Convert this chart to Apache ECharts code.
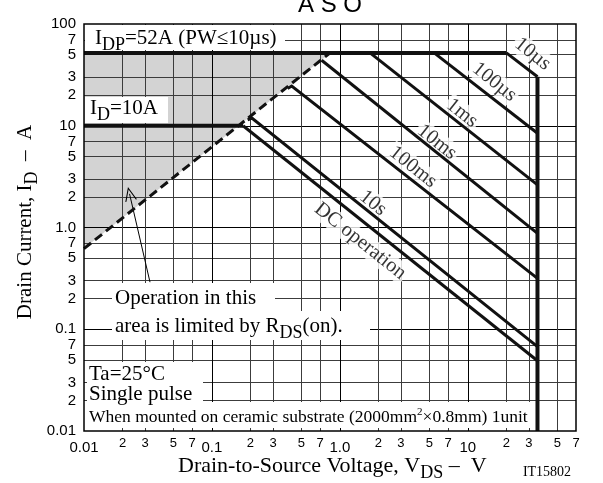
<!DOCTYPE html>
<html><head><meta charset="utf-8">
<script src="https://cdn.jsdelivr.net/npm/echarts@6/dist/echarts.min.js"></script>
<style>html,body{margin:0;padding:0;background:#fff}#c{width:603px;height:483px}</style>
</head><body><div id="c"></div>
<script>
// ---- axis ticks ----
const xTickValues = [0.01,0.02,0.03,0.05,0.07,0.1,0.2,0.3,0.5,0.7,1,2,3,5,7,10,20,30,50,70];
const xTickLabels = ['0.01','2','3','5','7','0.1','2','3','5','7','1.0','2','3','5','7','10','2','3','5','7'];
const yTickValues = [0.01,0.02,0.03,0.05,0.07,0.1,0.2,0.3,0.5,0.7,1,2,3,5,7,10,20,30,50,70,100];
const yTickLabels = ['0.01','2','3','5','7','0.1','2','3','5','7','1.0','2','3','5','7','10','2','3','5','7','100'];

// ---- limit lines (VDS [V], ID [A]) ----
const idpLimit  = [[0.01,52],[20,52]];
const idLimit   = [[0.01,10],[0.175,10]];
const vdssLimit = [[35,30.3],[35,0.01]];
const rdsLimit  = [[0.01,0.62],[0.82,51]];
const rdsShade  = [[0.01,52],[0.01,0.62],[0.84,52]];

// ---- SOA curves ----
const soa10us  = [[20,52],[35,30.3]];
const soa100us = [[5.45,52],[35,8.43]];
const soa1ms   = [[1.72,52],[35,2.62]];
const soa10ms  = [[0.72,44],[35,0.877]];
const soa100ms = [[0.39,23.2],[0.42,24.6],[35,0.316]];
const soa10s   = [[0.19,11.4],[0.205,11.9],[35,0.0674]];
const soaDC    = [[0.175,10],[35,0.049]];

// ---- curve labels ----
const curveLabels = ['10µs','100µs','1ms','10ms','100ms','10s','DC operation'];
const curveLabelAt = [[32.0,50.7],[16.1,26.9],[9.0,13.3],[5.74,6.92],[3.72,3.93],[1.81,1.74],[1.44,0.737]];
const arrowTail = [0.0328,0.29];
const arrowTip  = [0.0227,2.14];

const SERIF = '"Liberation Serif","Times New Roman",Times,serif';
const SANS = '"Liberation Sans",Arial,Helvetica,sans-serif';

function isMajor(v){ const l = Math.log10(v); return Math.abs(l - Math.round(l)) < 1e-6; }
function findIdx(vals, v){ for (let i=0;i<vals.length;i++){ if (Math.abs(Math.log10(vals[i]/v))<1e-4) return i; } return -1; }
function gridColors(vals){ return vals.map(v => isMajor(v) ? '#000' : '#3c3c3c'); }
const xGrid = xTickValues.slice(1, -1);
const yGrid = yTickValues.slice(1, -1);

const chart = echarts.init(document.getElementById('c'), null, {renderer:'canvas'});

function lineSeries(data, width, type){
  return {type:'line', data: data, symbol:'none', showSymbol:false, silent:true, animation:false, z:5,
    lineStyle:{color:'#111', width: width, type: type || 'solid', cap:'butt', join:'miter'}};
}

const RICH = {
  n: {fontFamily:SERIF, fontSize:21, lineHeight:22, verticalAlign:'middle', fill:'#000'},
  s: {fontFamily:SERIF, fontSize:18, lineHeight:18, padding:[14,0,0,0], verticalAlign:'middle', fill:'#000'},
  o: {fontFamily:SERIF, fontSize:21, lineHeight:21, verticalAlign:'middle', fill:'#000'},
  x: {fontFamily:SERIF, fontSize:22, lineHeight:22, verticalAlign:'middle', fill:'#000'},
  w: {fontFamily:SERIF, fontSize:17.5, lineHeight:18, verticalAlign:'middle', fill:'#000'},
  sup: {fontFamily:SERIF, fontSize:11, lineHeight:11, padding:[0,0,9,0], verticalAlign:'middle', fill:'#000'}
};
function T(x, y, text, opts, extra){
  return Object.assign({type:'text', x:x, y:y, z:20, silent:true,
    style:Object.assign({text:text, fill:'#000', fontFamily:SERIF, fontSize:21, align:'left', verticalAlign:'middle', rich:RICH}, opts||{})}, extra||{});
}
function B(x, y, w, h){ return {type:'rect', z:19, silent:true, shape:{x:x,y:y,width:w,height:h}, style:{fill:'#fff'}}; }

const chevron = 'path://M6,0 L12,14 L10.8,14 L6,2.6 L1.2,14 L0,14 Z';

const option = {
  animation:false,
  backgroundColor:'#fff',
  grid:{left:84, top:24, right:27, bottom:52, show:true, borderColor:'#000', borderWidth:1.5, backgroundColor:'transparent', z:6},
  xAxis:{
    type:'log', logBase:10, min:0.01, max:70, z:3,
    axisLine:{show:false},
    axisTick:{show:false, customValues:xGrid},
    splitLine:{show:true, lineStyle:{color:gridColors(xGrid), width:1}},
    axisLabel:{
      customValues:xTickValues, margin:5, showMinLabel:true, showMaxLabel:true,
      formatter:function(v){ const i = findIdx(xTickValues, v); if (i<0) return ''; const t = xTickLabels[i]; return isMajor(xTickValues[i]) ? '{ma|'+t+'}' : '{mi|'+t+'}'; },
      rich:{
        mi:{fontFamily:SANS, fontSize:13, lineHeight:14, color:'#000'},
        ma:{fontFamily:SANS, fontSize:15, lineHeight:15, color:'#000', padding:[8,0,0,0]}
      }
    }
  },
  yAxis:{
    type:'log', logBase:10, min:0.01, max:100, z:3,
    axisLine:{show:false},
    axisTick:{show:false, customValues:yGrid},
    splitLine:{show:true, lineStyle:{color:gridColors(yGrid), width:1}},
    axisLabel:{
      customValues:yTickValues, margin:8, showMinLabel:true, showMaxLabel:true,
      fontFamily:SANS, fontSize:15, lineHeight:15, color:'#000',
      formatter:function(v){ const i = findIdx(yTickValues, v); return i<0 ? '' : yTickLabels[i]; }
    }
  },
  series:[
    {type:'custom', silent:true, z:1, data:[[1,1]],
      renderItem:function(params, api){
        const pts = rdsShade.map(p => api.coord(p));
        return {type:'polygon', shape:{points:pts}, style:{fill:'#d3d3d3'}};
      }},
    lineSeries(idpLimit, 4),
    lineSeries(idLimit, 4),
    lineSeries(vdssLimit, 4),
    lineSeries(rdsLimit, 3, [9,5]),
    lineSeries(soa10us, 3),
    lineSeries(soa100us, 3),
    lineSeries(soa1ms, 3),
    lineSeries(soa10ms, 3),
    lineSeries(soa100ms, 3),
    lineSeries(soa10s, 3),
    lineSeries(soaDC, 3),
    {type:'scatter', silent:true, z:4, symbolSize:1, itemStyle:{color:'transparent'},
      data: curveLabelAt.map((p,i) => ({value:p, label:{formatter:curveLabels[i]}})),
      label:{show:true, position:'inside', rotate:-38.5, fontFamily:SERIF, fontSize:20.5, color:'#000', backgroundColor:'#fff', padding:[0,2]},
      markLine:{silent:true, animation:false, symbol:['none', chevron], symbolSize:[12,14],
        lineStyle:{color:'#000', width:1, type:'solid'}, label:{show:false},
        data:[[{coord:arrowTail},{coord:arrowTip}]]}
    }
  ],
  graphic:[
    T(330, 5, 'A S O', {fontFamily:SANS, fontSize:24, align:'center'}),
    B(85, 25, 200, 25),
    T(95, 38, '{n|I}{s|DP}{n|=52A (PW≤10µs)}'),
    B(85, 97, 83, 26),
    T(90, 108, '{n|I}{s|D}{n|=10A}'),
    B(112, 283, 163, 28),
    T(115, 298, 'Operation in this'),
    B(112, 311, 258, 29),
    T(115, 326, '{n|area is limited by R}{s|DS}{o|(on).}'),
    B(87, 362, 116, 40),
    T(89, 374, 'Ta=25°C'),
    T(89, 394.5, 'Single pulse'),
    B(87, 402, 443, 26),
    T(89, 417, '{w|When mounted on ceramic substrate (2000mm}{sup|2}{w|×0.8mm) 1unit}'),
    T(178, 466, '{x|Drain-to-Source Voltage, V}{s|DS}{x| –  V}'),
    T(547, 472, 'IT15802', {fontSize:14, align:'center'}),
    T(25, 222, '{n|Drain Current, I}{s|D}{n|  –  A}', {align:'center'}, {rotation:Math.PI/2})
  ]
};
chart.setOption(option);
</script>
</body></html>
